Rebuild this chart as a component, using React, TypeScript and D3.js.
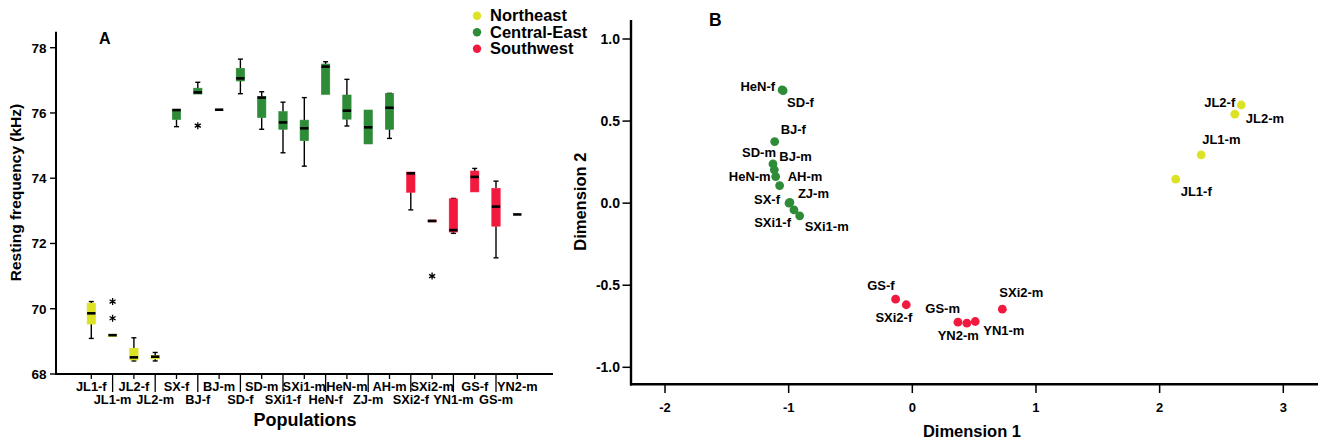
import React from "react";
import * as d3 from "d3";

// ---- panel A : resting frequency by population ----
const categories = [
  "JL1-f", "JL1-m", "JL2-f", "JL2-m", "SX-f", "BJ-f", "BJ-m", "SD-f", "SD-m", "SXi1-f", "SXi1-m",
  "HeN-f", "HeN-m", "ZJ-m", "AH-m", "SXi2-f", "SXi2-m", "YN1-m", "GS-f", "GS-m", "YN2-m",
];
const catRegion = [
  "NE", "NE", "NE", "NE", "CE", "CE", "CE", "CE", "CE", "CE", "CE",
  "CE", "CE", "CE", "CE", "SW", "SW", "SW", "SW", "SW", "SW",
];
// whisker low / q1 / median / q3 / whisker high (null = no whisker)
const whiskerLow = [69.09, null, 68.4, 68.4, 75.58, null, null, 76.59, 75.5, 74.78, 74.37, null, 75.6, null, 75.22, 73.03, null, 72.31, null, 71.56, null];
const q1 = [69.53, 69.15, 68.43, 68.46, 75.8, 76.58, 76.1, 76.98, 75.86, 75.5, 75.15, 76.57, 75.81, 75.05, 75.5, 73.57, 72.66, 72.35, 73.58, 72.53, 72.89];
const median = [69.86, 69.19, 68.51, 68.53, 76.09, 76.63, 76.1, 77.06, 76.47, 75.71, 75.53, 77.42, 76.07, 75.56, 76.16, 74.15, 72.69, 72.41, 74.04, 73.13, 72.89];
const q3 = [70.17, 69.22, 68.79, 68.57, 76.11, 76.76, 76.1, 77.37, 76.5, 76.04, 75.78, 77.5, 76.55, 76.09, 76.6, 74.19, 72.72, 73.37, 74.22, 73.69, 72.89];
const whiskerHigh = [70.22, null, 69.11, 68.66, null, 76.94, null, 77.65, 76.65, 76.33, 76.47, 77.57, 77.03, null, 76.6, null, null, 73.38, 74.3, 73.91, null];
const outliers = [
  { cat: "JL1-m", value: 70.22 },
  { cat: "JL1-m", value: 69.71 },
  { cat: "BJ-f", value: 75.61 },
  { cat: "SXi2-m", value: 71.0 },
];
const yTicksA = [68, 70, 72, 74, 76, 78];

// ---- panel B : MDS of populations ----
const pointNames = [
  "JL1-f", "JL1-m", "JL2-f", "JL2-m", "SX-f", "BJ-f", "BJ-m", "SD-f", "SD-m", "SXi1-f", "SXi1-m",
  "HeN-f", "HeN-m", "ZJ-m", "AH-m", "SXi2-f", "SXi2-m", "YN1-m", "GS-f", "GS-m", "YN2-m",
];
const dim1 = [2.13, 2.336, 2.66, 2.608, -0.997, -1.113, -1.116, -1.045, -1.127, -0.957, -0.911, -1.053, -1.105, -0.99, -1.073, -0.049, 0.728, 0.509, -0.135, 0.369, 0.441];
const dim2 = [0.146, 0.294, 0.598, 0.542, 0.0, 0.375, 0.203, 0.685, 0.239, -0.041, -0.077, 0.69, 0.162, 0.005, 0.107, -0.619, -0.646, -0.721, -0.585, -0.725, -0.731];
const pointRegion = catRegion;
const xTicksB = [-2, -1, 0, 1, 2, 3];
const yTicksB = [-1, -0.5, 0, 0.5, 1];

// label placement next to each dot: [anchor, dx, dy]
const labelPlace: Record<string, [string, number, number]> = {
  "JL1-f": ["start", 5, 17], "JL1-m": ["start", 1, -11], "JL2-f": ["end", -6, 2], "JL2-m": ["start", 11, 9],
  "SX-f": ["end", -9, 1], "BJ-f": ["start", 6, -8], "BJ-m": ["start", 5, -9], "SD-f": ["start", 4, 16],
  "SD-m": ["end", 3, -7], "SXi1-f": ["end", -3, 17], "SXi1-m": ["start", 5, 15], "HeN-f": ["end", -7, 1],
  "HeN-m": ["end", -5, 4], "ZJ-m": ["start", 8, -4], "AH-m": ["start", 8, -5], "SXi2-f": ["end", 6, 17],
  "SXi2-m": ["start", -3, -12], "YN1-m": ["start", 8, 13], "GS-f": ["end", -1, -9], "GS-m": ["end", 2, -9],
  "YN2-m": ["end", 12, 17],
};

const legendItems = [
  { key: "NE", label: "Northeast" },
  { key: "CE", label: "Central-East" },
  { key: "SW", label: "Southwest" },
];
const colors: Record<string, string> = { NE: "#dce324", CE: "#2e8b38", SW: "#f2193f" };

const FONT = "'Liberation Sans', Arial, sans-serif";

export default function App() {
  // scales A
  const xA = d3.scalePoint<string>().domain(categories).range([91.3, 517.3]);
  const yA = d3.scaleLinear().domain([68, 78]).range([374, 47.7]);
  // scales B
  const xB = d3.scaleLinear().domain([-2, 3]).range([665, 1283.3]);
  const yB = d3.scaleLinear().domain([-1, 1]).range([367.3, 39]);

  const boxW = 8.4;
  const star = d3.symbol().type(d3.symbolAsterisk).size(34)();

  return (
    <svg width={1318} height={444} style={{ position: "absolute", left: 0, top: 0, background: "#fff" }} fontFamily={FONT} fontWeight="bold">
      {/* ===== Panel A ===== */}
      <g>
        {/* boxes */}
        {categories.map((c, i) => {
          const cx = xA(c)!;
          const col = colors[catRegion[i]];
          const hasBox = q3[i] - q1[i] > 0.001;
          const lo = whiskerLow[i];
          const hi = whiskerHigh[i];
          return (
            <g key={c}>
              {lo !== null && (
                <g stroke="#000" strokeWidth={1.4}>
                  <line x1={cx} x2={cx} y1={yA(q1[i])} y2={yA(lo)} />
                  <line x1={cx - 2.5} x2={cx + 2.5} y1={yA(lo)} y2={yA(lo)} />
                </g>
              )}
              {hi !== null && (
                <g stroke="#000" strokeWidth={1.4}>
                  <line x1={cx} x2={cx} y1={yA(q3[i])} y2={yA(hi)} />
                  <line x1={cx - 2.5} x2={cx + 2.5} y1={yA(hi)} y2={yA(hi)} />
                </g>
              )}
              {hasBox && (
                <rect x={cx - boxW / 2} width={boxW} y={yA(q3[i])} height={yA(q1[i]) - yA(q3[i])} fill={col} stroke={col} strokeWidth={0.6} />
              )}
              <line x1={cx - boxW / 2} x2={cx + boxW / 2} y1={yA(median[i])} y2={yA(median[i])} stroke="#000" strokeWidth={2.6} />
            </g>
          );
        })}
        {outliers.map((o, i) => (
          <path key={i} d={star!} transform={`translate(${xA(o.cat)},${yA(o.value)})`} stroke="#000" strokeWidth={1.3} fill="none" />
        ))}

        {/* axes */}
        <line x1={56} x2={56} y1={31.7} y2={375} stroke="#000" strokeWidth={2} />
        <line x1={55} x2={553} y1={374} y2={374} stroke="#000" strokeWidth={2} />
        {yTicksA.map((t) => (
          <g key={t}>
            <line x1={50} x2={56} y1={yA(t)} y2={yA(t)} stroke="#000" strokeWidth={1.4} />
            <text x={46.5} y={yA(t)} dy="0.36em" textAnchor="end" fontSize={13.5}>{t}</text>
          </g>
        ))}
        {categories.map((c, i) => {
          const cx = xA(c)!;
          const odd = i % 2 === 1;
          return (
            <g key={c}>
              <line x1={cx} x2={cx} y1={374} y2={odd ? 392 : 379} stroke="#000" strokeWidth={1.3} />
              <text x={cx} y={odd ? 404 : 391} textAnchor="middle" fontSize={12.8}>{c}</text>
            </g>
          );
        })}
        <text x={99} y={44} fontSize={16}>A</text>
        <text x={305} y={426} textAnchor="middle" fontSize={18}>Populations</text>
        <text transform="translate(21,192.5) rotate(-90)" textAnchor="middle" fontSize={15.5}>Resting frequency (kHz)</text>

        {/* legend */}
        {legendItems.map((l, i) => (
          <g key={l.key}>
            <circle cx={477} cy={15.8 + i * 16.5} r={4.2} fill={colors[l.key]} />
            <text x={490} y={21 + i * 16.5} fontSize={16.5}>{l.label}</text>
          </g>
        ))}
      </g>

      {/* ===== Panel B ===== */}
      <g>
        <line x1={631} x2={631} y1={20} y2={385.5} stroke="#000" strokeWidth={2.4} />
        <line x1={630} x2={1318} y1={384.3} y2={384.3} stroke="#000" strokeWidth={2.4} />
        {yTicksB.map((t) => (
          <g key={t}>
            <line x1={622.5} x2={631} y1={yB(t)} y2={yB(t)} stroke="#000" strokeWidth={1.5} />
            <text x={620} y={yB(t)} dy="0.36em" textAnchor="end" fontSize={14}>{t.toFixed(1)}</text>
          </g>
        ))}
        {xTicksB.map((t) => (
          <g key={t}>
            <line x1={xB(t)} x2={xB(t)} y1={384.3} y2={393} stroke="#000" strokeWidth={1.5} />
            <text x={xB(t)} y={411.5} textAnchor="middle" fontSize={13}>{t}</text>
          </g>
        ))}
        <text x={972} y={437} textAnchor="middle" fontSize={16.5}>Dimension 1</text>
        <text transform="translate(585.5,201.7) rotate(-90)" textAnchor="middle" fontSize={16.5}>Dimension 2</text>
        <text x={709} y={26} fontSize={17.5}>B</text>

        {pointNames.map((n, i) => (
          <circle key={n} cx={xB(dim1[i])} cy={yB(dim2[i])} r={4.4} fill={colors[pointRegion[i]]} />
        ))}
        {pointNames.map((n, i) => {
          const [anchor, dx, dy] = labelPlace[n];
          return (
            <text key={n} x={xB(dim1[i]) + dx} y={yB(dim2[i]) + dy} textAnchor={anchor} fontSize={13}>{n}</text>
          );
        })}
      </g>
    </svg>
  );
}
